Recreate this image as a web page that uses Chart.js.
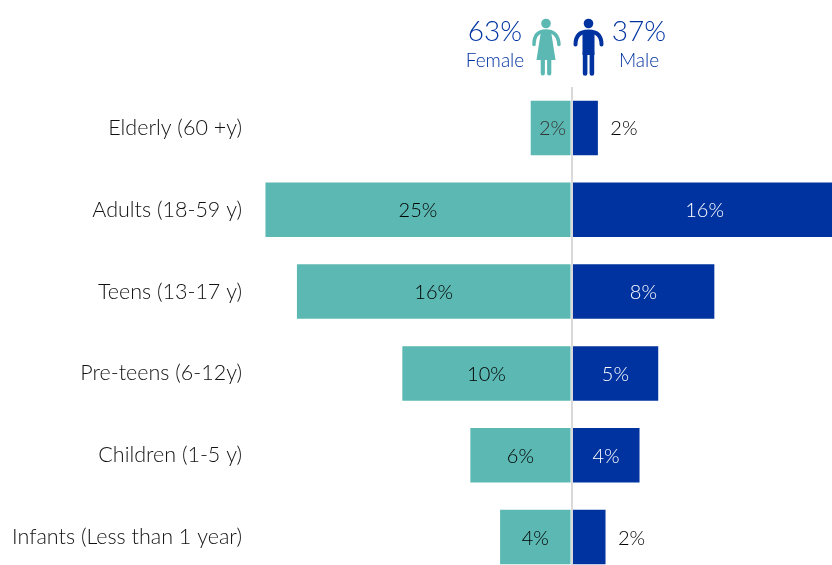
<!DOCTYPE html>
<html>
<head>
<meta charset="utf-8">
<style>
  html, body { margin: 0; background: #fff; overflow: hidden; height: 565px; }
  canvas { display: block; }
</style>
</head>
<body>
<canvas id="ageChart" width="832" height="578"></canvas>
<script src="https://cdn.jsdelivr.net/npm/chart.js@4"></script>
<script>
const categories = ["Elderly (60 +y)", "Adults (18-59 y)", "Teens (13-17 y)", "Pre-teens (6-12y)", "Children (1-5 y)", "Infants (Less than 1 year)"];
// bar lengths as drawn, the printed labels don't quite match them
const femaleValues = [2.4, 18, 16.15, 9.95, 5.95, 4.2];
const maleValues = [1.55, 15.6, 8.4, 5.1, 4, 2];
const femaleLabels = ["2%", "25%", "16%", "10%", "6%", "4%"];
const maleLabels = ["2%", "16%", "8%", "5%", "4%", "2%"];
const femaleShare = "63%";
const maleShare = "37%";

const TEAL = "#5cb8b2";
const BLUE = "#0033a0";
const FONT = "Lato";

function drawFemale(ctx, cx) {
  ctx.fillStyle = TEAL;
  ctx.strokeStyle = TEAL;
  ctx.lineCap = "round";
  ctx.lineWidth = 3.5;
  ctx.beginPath();
  ctx.arc(cx, 23.5, 4.8, 0, Math.PI * 2);
  ctx.fill();
  ctx.beginPath();
  ctx.moveTo(cx - 12, 44.5);
  ctx.quadraticCurveTo(cx - 12, 31, cx, 31);
  ctx.quadraticCurveTo(cx + 12, 31, cx + 13, 44.5);
  ctx.stroke();
  ctx.beginPath();
  ctx.moveTo(cx - 5, 31);
  ctx.lineTo(cx + 5, 31);
  ctx.lineTo(cx + 9.5, 60);
  ctx.lineTo(cx - 9.5, 60);
  ctx.closePath();
  ctx.fill();
  ctx.lineWidth = 4.2;
  ctx.beginPath();
  ctx.moveTo(cx - 3.2, 60);
  ctx.lineTo(cx - 3.2, 73.5);
  ctx.moveTo(cx + 3.2, 60);
  ctx.lineTo(cx + 3.2, 73.5);
  ctx.stroke();
}

function drawMale(ctx, cx) {
  ctx.fillStyle = BLUE;
  ctx.strokeStyle = BLUE;
  ctx.lineCap = "round";
  ctx.lineWidth = 4;
  ctx.beginPath();
  ctx.arc(cx, 23.5, 4.8, 0, Math.PI * 2);
  ctx.fill();
  ctx.beginPath();
  ctx.moveTo(cx - 13, 44.5);
  ctx.quadraticCurveTo(cx - 13, 31.5, cx, 31.5);
  ctx.quadraticCurveTo(cx + 13, 31.5, cx + 13, 44.5);
  ctx.stroke();
  ctx.fillRect(cx - 6, 31, 12, 24);
  ctx.lineWidth = 4.6;
  ctx.beginPath();
  ctx.moveTo(cx - 3.4, 52);
  ctx.lineTo(cx - 3.4, 73.5);
  ctx.moveTo(cx + 3.4, 52);
  ctx.lineTo(cx + 3.4, 73.5);
  ctx.stroke();
}

const labelPlugin = {
  id: "barLabels",
  afterDatasetsDraw(chart) {
    const ctx = chart.ctx;
    const female = chart.getDatasetMeta(0).data;
    const male = chart.getDatasetMeta(1).data;
    ctx.save();
    ctx.font = `300 20px ${FONT}`;
    ctx.textAlign = "center";
    ctx.textBaseline = "middle";
    female.forEach((bar, i) => {
      ctx.fillStyle = i === 0 ? "#333333" : "#000000";
      ctx.fillText(femaleLabels[i], (bar.x + bar.base) / 2 + (i === 0 ? 2 : 0), bar.y + 1);
    });
    male.forEach((bar, i) => {
      // the two short male bars carry their label outside
      if (maleValues[i] <= 2) {
        ctx.fillStyle = "#000000";
        ctx.fillText(maleLabels[i], bar.x + 26, bar.y + 1);
      } else {
        ctx.fillStyle = "#ffffff";
        ctx.fillText(maleLabels[i], (bar.x + bar.base) / 2, bar.y + 1);
      }
    });
    ctx.restore();
  },
  afterDraw(chart) {
    const ctx = chart.ctx;
    ctx.save();
    ctx.textAlign = "center";
    ctx.textBaseline = "middle";
    ctx.fillStyle = BLUE;
    ctx.font = `300 28px ${FONT}`;
    ctx.fillText(femaleShare, 495, 32);
    ctx.fillText(maleShare, 639, 32);
    ctx.font = `300 19px ${FONT}`;
    ctx.fillText("Female", 495, 61);
    ctx.fillText("Male", 639, 61);
    drawFemale(ctx, 546);
    drawMale(ctx, 588.5);
    ctx.restore();
  },
};

new Chart(document.getElementById("ageChart"), {
  type: "bar",
  data: {
    labels: categories,
    datasets: [
      { label: "Female", data: femaleValues.map((v) => -v), backgroundColor: TEAL },
      { label: "Male", data: maleValues, backgroundColor: BLUE },
    ],
  },
  options: {
    indexAxis: "y",
    responsive: false,
    animation: false,
    layout: { padding: { top: 87, bottom: 0, left: 0, right: 0 } },
    datasets: { bar: { categoryPercentage: 1, barPercentage: 0.667 } },
    plugins: { legend: { display: false }, tooltip: { enabled: false } },
    scales: {
      x: {
        stacked: true,
        min: -18.91,
        max: 15.32,
        afterBuildTicks: (scale) => { scale.ticks = [{ value: 0 }]; },
        afterFit: (scale) => { scale.height = 0; },
        ticks: { display: false },
        border: { display: false },
        grid: { color: "#d9d9d9", lineWidth: 2, drawTicks: false, z: 1 },
      },
      y: {
        stacked: true,
        afterFit: (scale) => {
          scale.width = 250;
          scale.paddingBottom = 0;
          scale.paddingTop = 0;
        },
        ticks: { padding: 8, color: "#111111", font: { family: FONT, size: 21.5, weight: "300" } },
        border: { display: false },
        grid: { display: false, drawTicks: false },
      },
    },
  },
  plugins: [labelPlugin],
});
</script>
</body>
</html>
